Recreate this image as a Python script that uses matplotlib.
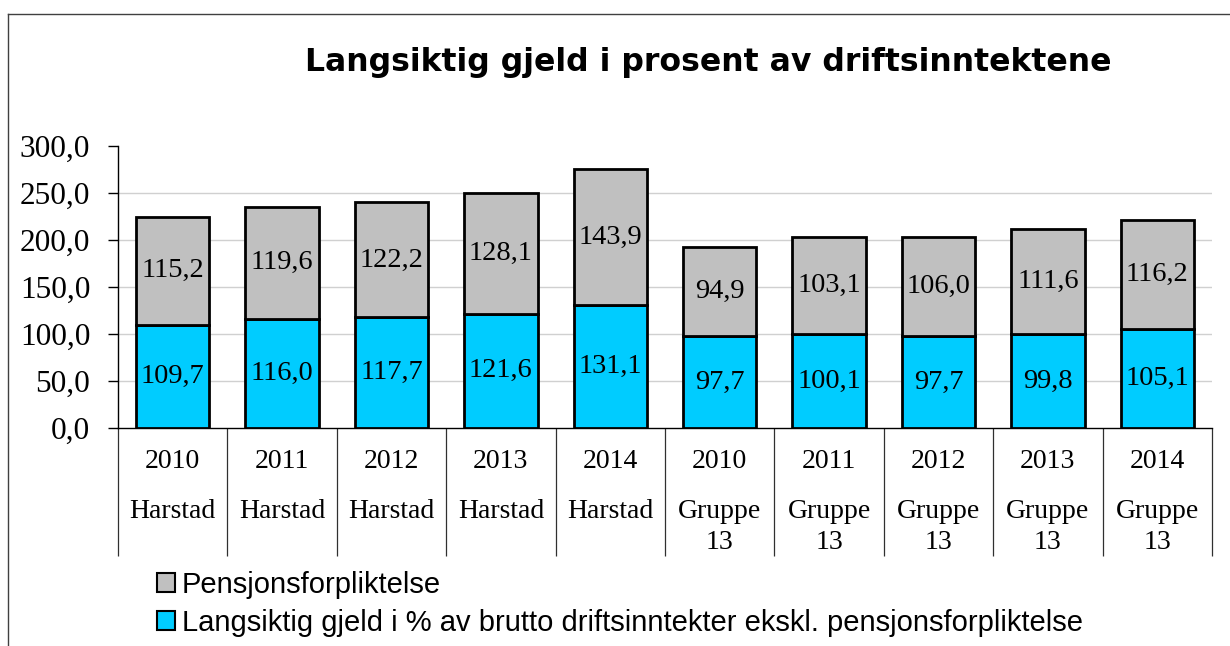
import matplotlib
matplotlib.use('Agg')
import matplotlib.pyplot as plt
from matplotlib.patches import Patch
from matplotlib.lines import Line2D
import numpy as np

# data
years = ['2010', '2011', '2012', '2013', '2014', '2010', '2011', '2012', '2013', '2014']
names = ['Harstad'] * 5 + ['Gruppe\n13'] * 5
gjeld = [109.7, 116.0, 117.7, 121.6, 131.1, 97.7, 100.1, 97.7, 99.8, 105.1]
pensjon = [115.2, 119.6, 122.2, 128.1, 143.9, 94.9, 103.1, 106.0, 111.6, 116.2]
yticks = [0, 50, 100, 150, 200, 250, 300]

title = 'Langsiktig gjeld i prosent av driftsinntektene'
lab_pensjon = 'Pensjonsforpliktelse'
lab_gjeld = 'Langsiktig gjeld i % av brutto driftsinntekter ekskl. pensjonsforpliktelse'

c_gjeld = '#00CCFF'
c_pensjon = '#C0C0C0'
serif = 'Liberation Serif'


def fmt(v):
    return ('%.1f' % v).replace('.', ',')


def main():
    W, H = 1230, 646
    fig = plt.figure(figsize=(W / 100, H / 100), dpi=100)
    ax = fig.add_axes([118 / W, 1 - 428 / H, (1212 - 118) / W, (428 - 146) / H])

    x = np.arange(len(years))
    ax.bar(x, gjeld, width=0.67, color=c_gjeld, edgecolor='black', linewidth=2, zorder=3)
    ax.bar(x, pensjon, width=0.67, bottom=gjeld, color=c_pensjon, edgecolor='black',
           linewidth=2, zorder=3)

    for i in range(len(x)):
        ax.text(x[i], gjeld[i] / 2, fmt(gjeld[i]), ha='center', va='center',
                fontsize=20.5, family=serif, zorder=4)
        ax.text(x[i], gjeld[i] + pensjon[i] / 2, fmt(pensjon[i]), ha='center', va='center',
                fontsize=20.5, family=serif, zorder=4)

    ax.set_xlim(-0.5, len(years) - 0.5)
    ax.set_ylim(0, 300)

    # grid lines (none at the top)
    for t in yticks[1:-1]:
        ax.axhline(t, color='#d0d0d0', linewidth=1, zorder=1)

    ax.set_yticks(yticks)
    ax.set_yticklabels([fmt(t) for t in yticks], fontsize=22.5, family=serif)
    ax.tick_params(axis='y', direction='out', length=7, width=1, pad=13)

    # category separators below the axis
    ax.set_xticks(x)
    ax.set_xticklabels([])
    ax.tick_params(axis='x', which='major', length=0)
    ax.set_xticks(np.arange(-0.5, len(years)), minor=True)
    ax.tick_params(axis='x', which='minor', direction='out', length=92, width=0.9, color='#303030')

    ax.spines['top'].set_visible(False)
    ax.spines['right'].set_visible(False)
    ax.spines['left'].set_linewidth(1)
    ax.spines['bottom'].set_linewidth(1)

    tr = ax.get_xaxis_transform()
    for i in range(len(x)):
        ax.text(x[i], -34 / 282, years[i], transform=tr, ha='center', va='center',
                fontsize=20, family=serif)
        ax.text(x[i], -71 / 282, names[i], transform=tr, ha='center', va='top',
                fontsize=20, family=serif, linespacing=1.3)

    fig.text(708 / W, 1 - 62 / H, title, ha='center', va='center', fontsize=22.7,
             weight='bold', family='DejaVu Sans')

    handles = [Patch(facecolor=c_pensjon, edgecolor='black', linewidth=1.5),
               Patch(facecolor=c_gjeld, edgecolor='black', linewidth=1.5)]
    fig.legend(handles, [lab_pensjon, lab_gjeld], loc='upper left',
               bbox_to_anchor=(157 / W, 1 - 571 / H), frameon=False,
               prop={'family': 'Liberation Sans', 'size': 21},
               handlelength=0.6, handleheight=0.6, handletextpad=0.25,
               labelspacing=0.34, borderpad=0, borderaxespad=0)

    # chart area border (cut off on the right and bottom)
    fig.add_artist(Line2D([8 / W, 1], [1 - 14 / H, 1 - 14 / H], color='#404040', linewidth=1))
    fig.add_artist(Line2D([8 / W, 8 / W], [0, 1 - 14 / H], color='#404040', linewidth=1))

    fig.savefig('out.png', dpi=100)


if __name__ == '__main__':
    main()
